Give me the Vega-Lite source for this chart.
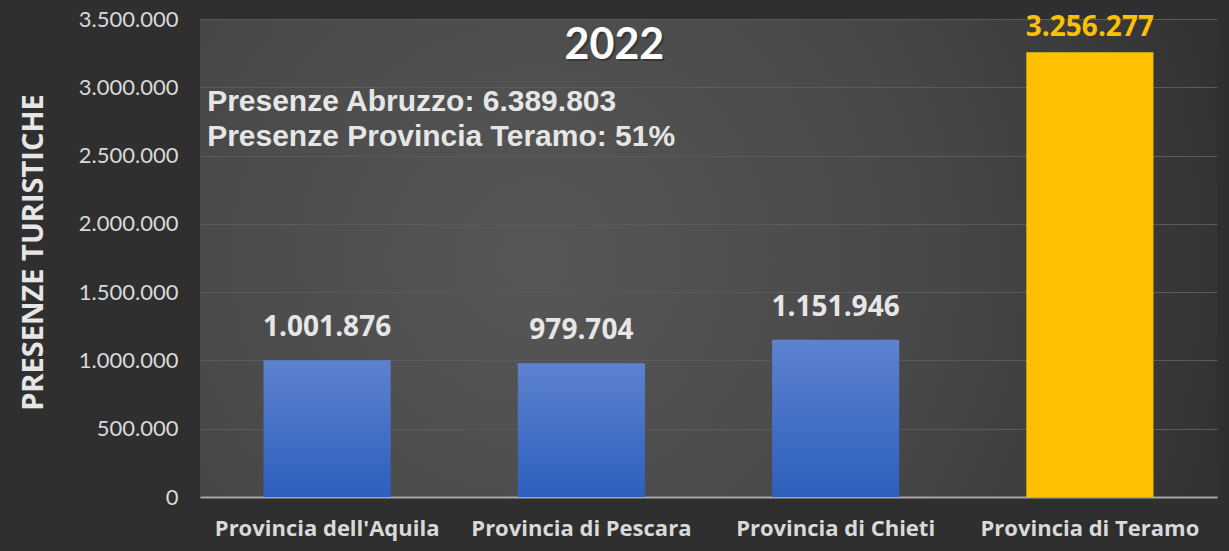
{
  "$schema": "https://vega.github.io/schema/vega-lite/v6.json",
  "width": 1017,
  "height": 478,
  "autosize": {"type": "none"},
  "padding": {"left": 200, "top": 19, "right": 12, "bottom": 54},
  "background": "#2f2f2f",
  "config": {
    "locale": {"number": {"decimal": ",", "thousands": ".", "grouping": [3], "currency": ["€", ""]}},
    "view": {
      "stroke": null,
      "fill": {
        "gradient": "radial",
        "x1": 0.33, "y1": 0.5, "r1": 0,
        "x2": 0.33, "y2": 0.5, "r2": 0.8,
        "stops": [
          {"offset": 0, "color": "#575757"},
          {"offset": 0.5, "color": "#474747"},
          {"offset": 1, "color": "#2b2b2b"}
        ]
      }
    }
  },
  "data": {
    "values": [
      {"provincia": "Provincia dell'Aquila", "presenze": 1001876},
      {"provincia": "Provincia di Pescara", "presenze": 979704},
      {"provincia": "Provincia di Chieti", "presenze": 1151946},
      {"provincia": "Provincia di Teramo", "presenze": 3256277}
    ]
  },
  "encoding": {
    "x": {
      "field": "provincia",
      "type": "nominal",
      "sort": null,
      "scale": {"paddingInner": 0.5, "paddingOuter": 0.25},
      "axis": {
        "title": null,
        "labelAngle": 0,
        "labelFont": "Open Sans",
        "labelFontSize": 22,
        "labelFontWeight": "bold",
        "labelColor": "#d9d9d9",
        "labelPadding": 21,
        "labelLimit": 0,
        "ticks": false,
        "domainColor": "#a6a6a6",
        "domainWidth": 2,
        "grid": false
      }
    }
  },
  "layer": [
    {
      "mark": {"type": "bar"},
      "encoding": {
        "y": {
          "field": "presenze",
          "type": "quantitative",
          "scale": {"domain": [0, 3500000], "nice": false},
          "axis": {
            "values": [0, 500000, 1000000, 1500000, 2000000, 2500000, 3000000, 3500000],
            "format": ",d",
            "labelFont": "Lato",
            "labelFontSize": 22,
            "labelColor": "#d9d9d9",
            "labelPadding": 22,
            "ticks": false,
            "domain": false,
            "grid": true,
            "gridColor": "#5a5a5a",
            "gridWidth": 1,
            "title": "PRESENZE TURISTICHE",
            "titleFont": "Open Sans",
            "titleFontSize": 29,
            "titleFontWeight": "bold",
            "titleColor": "#e6e6e6",
            "titleAngle": -90,
            "titleAlign": "center",
            "titleBaseline": "middle",
            "titleX": -167,
            "titleY": 233
          }
        },
        "color": {
          "condition": {"test": "datum.provincia === 'Provincia di Teramo'", "value": "#FFC000"},
          "value": {
            "gradient": "linear",
            "x1": 0, "y1": 0, "x2": 0, "y2": 1,
            "stops": [
              {"offset": 0, "color": "#5d82cf"},
              {"offset": 1, "color": "#2d5fbd"}
            ]
          }
        }
      }
    },
    {
      "transform": [{"filter": "datum.provincia !== 'Provincia di Teramo'"}],
      "mark": {"type": "text", "font": "Open Sans", "fontSize": 28, "fontWeight": "bold", "color": "#e6e6e6", "baseline": "alphabetic", "dy": -24},
      "encoding": {
        "y": {"field": "presenze", "type": "quantitative"},
        "text": {"field": "presenze", "type": "quantitative", "format": ",d"}
      }
    },
    {
      "transform": [{"filter": "datum.provincia === 'Provincia di Teramo'"}],
      "mark": {"type": "text", "font": "Open Sans", "fontSize": 28, "fontWeight": "bold", "color": "#FFC000", "baseline": "alphabetic", "dy": -16},
      "encoding": {
        "y": {"field": "presenze", "type": "quantitative"},
        "text": {"field": "presenze", "type": "quantitative", "format": ",d"}
      }
    },
    {
      "data": {"values": [{}]},
      "mark": {"type": "text", "text": "2022", "font": "Lato", "fontSize": 43, "fontWeight": "bold", "color": "#111111", "opacity": 0.35, "baseline": "middle", "align": "center", "dx": 35, "dy": 2},
      "encoding": {
        "x": {"datum": "Provincia di Pescara"},
        "y": {"datum": 3300000}
      }
    },
    {
      "data": {"values": [{}]},
      "mark": {"type": "text", "text": "2022", "font": "Lato", "fontSize": 43, "fontWeight": "bold", "color": "#ffffff", "baseline": "middle", "align": "center", "dx": 33},
      "encoding": {
        "x": {"datum": "Provincia di Pescara"},
        "y": {"datum": 3300000}
      }
    },
    {
      "data": {"values": [{}]},
      "mark": {"type": "text", "text": "Presenze Abruzzo: 6.389.803", "font": "Liberation Sans", "fontSize": 30, "fontWeight": "bold", "color": "#e6e6e6", "baseline": "middle", "align": "left", "dx": -120},
      "encoding": {
        "x": {"datum": "Provincia dell'Aquila"},
        "y": {"datum": 2892000}
      }
    },
    {
      "data": {"values": [{}]},
      "mark": {"type": "text", "text": "Presenze Provincia Teramo: 51%", "font": "Liberation Sans", "fontSize": 30, "fontWeight": "bold", "color": "#e6e6e6", "baseline": "middle", "align": "left", "dx": -120},
      "encoding": {
        "x": {"datum": "Provincia dell'Aquila"},
        "y": {"datum": 2636000}
      }
    }
  ]
}
